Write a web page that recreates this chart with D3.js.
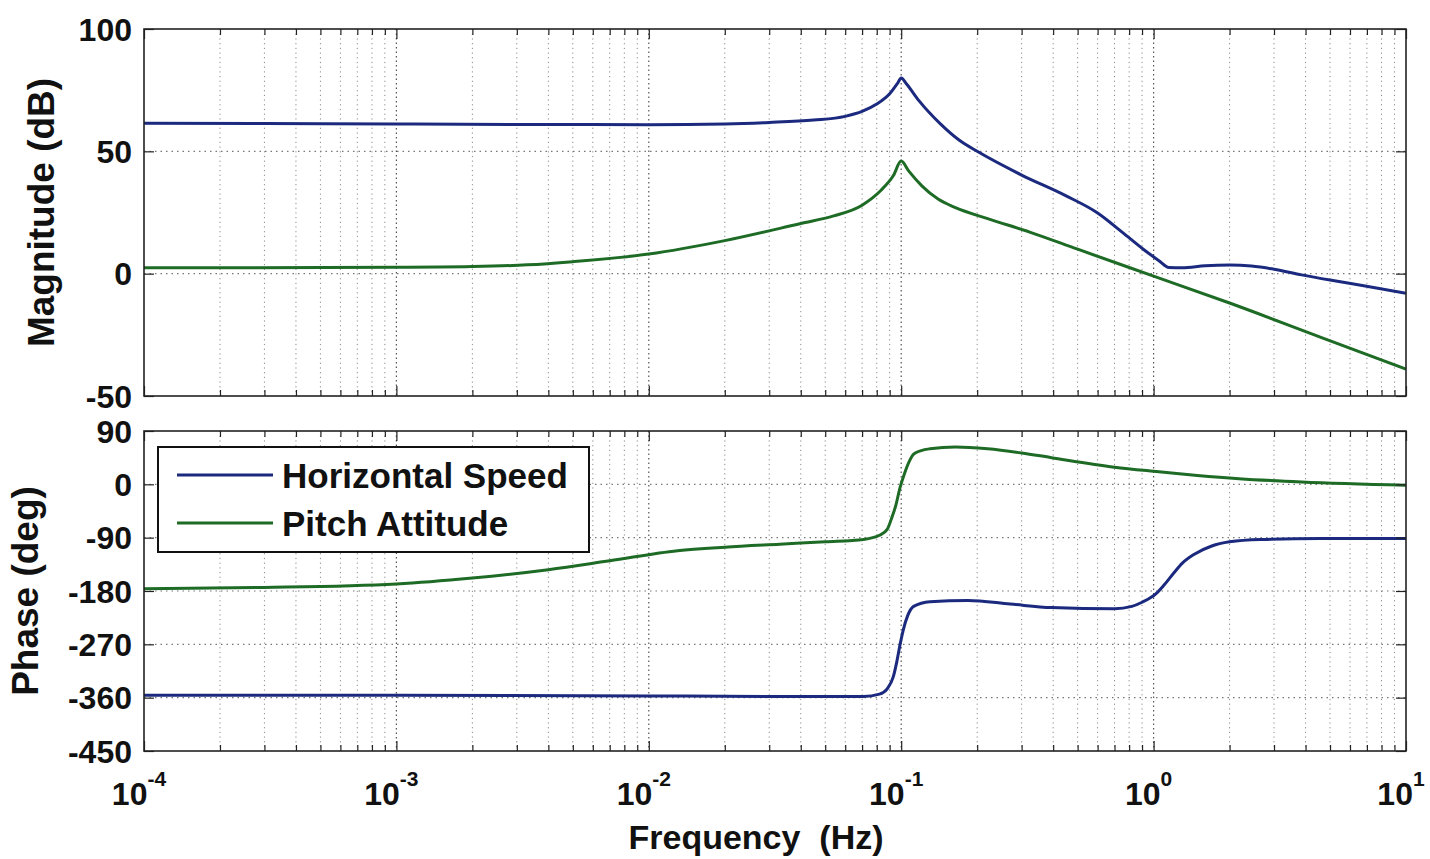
<!DOCTYPE html>
<html><head><meta charset="utf-8">
<script src="https://cdn.jsdelivr.net/npm/d3@7"></script>
<style>
body{margin:0;background:#fff}
svg{display:block}
text{font-family:"Liberation Sans",Arial,Helvetica,sans-serif;font-weight:bold;fill:#111}
</style>
</head><body>
<svg id="c" width="1430" height="859"></svg>
<script>
// ---------------- data ----------------
const seriesNames = ["Horizontal Speed", "Pitch Attitude"];
const seriesColors = ["#1b2a7e", "#1e6b26"];

// Magnitude (dB)
const hsMagFreq = [1e-4,3e-4,1e-3,3e-3,1e-2,0.02,0.03,0.045,0.06,0.07,0.08,0.09,0.097,0.1,0.105,0.118,0.143,0.17,0.2,0.3,0.45,0.6,0.75,0.91,1.05,1.15,1.3,1.6,2.0,2.44,3.0,3.86,5.0,6.8,10];
const hsMag     = [61.5,61.4,61.2,61.0,60.9,61.2,61.8,62.8,64.3,66.3,69.3,73.5,78.0,80.0,77.5,70.5,61.2,54.5,50.0,40.3,31.8,24.8,17.0,10.0,5.3,2.5,2.4,3.2,3.5,3.1,1.8,-0.5,-2.6,-4.9,-8.0];
const paMagFreq = [1e-4,1e-3,2e-3,3.3e-3,5e-3,1e-2,0.02,0.04,0.054,0.07,0.083,0.093,0.1,0.107,0.121,0.14,0.164,0.22,0.325,0.5,1.0,2.0,4.6,10];
const paMag     = [2.4,2.6,2.9,3.6,4.9,8.0,13.5,20.5,23.6,28.0,34.0,40.0,46.0,42.0,35.8,30.5,27.0,22.5,16.9,10.0,-1.0,-12.0,-26.0,-39.0];

// Phase (deg)
const hsPhFreq = [1e-4,1e-3,1e-2,0.03,0.071,0.082,0.088,0.093,0.096,0.099,0.102,0.106,0.112,0.13,0.184,0.27,0.394,0.7,0.82,0.9,1.02,1.1,1.2,1.3,1.45,1.7,2.0,2.65,4.6,10];
const hsPh     = [-356,-356,-357,-358,-358,-354,-345,-325,-300,-270,-245,-222,-206,-198,-196,-202,-208,-210,-206,-199,-185,-170,-150,-133,-118,-104,-97,-93,-91.5,-91.5];
const paPhFreq = [1e-4,3e-4,1e-3,2e-3,4e-3,7e-3,0.013,0.02,0.033,0.05,0.071,0.082,0.088,0.092,0.095,0.099,0.103,0.108,0.112,0.12,0.13,0.164,0.22,0.3,0.394,0.7,1.0,1.49,2.18,3.86,10];
const paPh     = [-176,-174,-168,-158,-144,-129,-112,-106,-101,-97,-93,-86,-76,-55,-37,-5,18,40,51,57,60,63,60,53,45,29,22,15,9.5,4,-1.5];

// ticks
const magTicks   = [100, 50, 0, -50];
const phaseTicks = [90, 0, -90, -180, -270, -360, -450];
const freqDecades = [-4, -3, -2, -1, 0, 1];

// ---------------- layout ----------------
const L = 144, R = 1406;
const P1 = {top: 29, bot: 396};
const P2 = {top: 431, bot: 751};

const svg = d3.select("#c");
const x = d3.scaleLog().domain([1e-4, 10]).range([L, R]);
const yMag = d3.scaleLinear().domain([-50, 100]).range([P1.bot, P1.top]);
const yPh  = d3.scaleLinear().domain([-450, 90]).range([P2.bot, P2.top]);

const majors = freqDecades.map(d => Math.pow(10, d));
const minors = [];
freqDecades.slice(0, -1).forEach(d => { for (let k = 2; k <= 9; k++) minors.push(k * Math.pow(10, d)); });

function panel(id, y, yticks, P, series) {
  const g = svg.append("g");
  const clipId = "clip" + id;
  svg.append("clipPath").attr("id", clipId).append("rect")
     .attr("x", L).attr("y", P.top).attr("width", R - L).attr("height", P.bot - P.top);

  // grid
  const grid = g.append("g");
  grid.selectAll(".vmin").data(minors).join("line")
    .attr("x1", d => x(d)).attr("x2", d => x(d)).attr("y1", P.top).attr("y2", P.bot)
    .attr("stroke", "#8a8a8a").attr("stroke-width", 1).attr("stroke-dasharray", "1.2,3.5");
  grid.selectAll(".vmaj").data(majors.slice(1, -1)).join("line")
    .attr("x1", d => x(d)).attr("x2", d => x(d)).attr("y1", P.top).attr("y2", P.bot)
    .attr("stroke", "#555").attr("stroke-width", 1.2).attr("stroke-dasharray", "1.5,3");
  grid.selectAll(".h").data(yticks.slice(1, -1)).join("line")
    .attr("x1", L).attr("x2", R).attr("y1", d => y(d)).attr("y2", d => y(d))
    .attr("stroke", "#777").attr("stroke-width", 1.1).attr("stroke-dasharray", "1.5,4");

  // curves
  const line = d3.line().x(d => x(d[0])).y(d => y(d[1])).curve(d3.curveMonotoneX);
  const lg = g.append("g").attr("clip-path", `url(#${clipId})`);
  series.forEach(s => {
    lg.append("path").datum(d3.zip(s.f, s.v))
      .attr("d", line).attr("fill", "none")
      .attr("stroke", seriesColors[s.c]).attr("stroke-width", 3)
      .attr("stroke-linejoin", "round");
  });

  // axes ticks (inward)
  const ax = (a, tr) => g.append("g").attr("transform", tr).call(a)
      .call(s => s.select(".domain").remove())
      .call(s => s.selectAll("line").attr("stroke", "#222").attr("stroke-width", 1.2));
  ax(d3.axisBottom(x).tickValues(majors).tickSize(-10).tickFormat(""), `translate(0,${P.bot})`);
  ax(d3.axisBottom(x).tickValues(minors).tickSize(-6).tickFormat(""), `translate(0,${P.bot})`);
  ax(d3.axisTop(x).tickValues(majors).tickSize(-10).tickFormat(""), `translate(0,${P.top})`);
  ax(d3.axisTop(x).tickValues(minors).tickSize(-6).tickFormat(""), `translate(0,${P.top})`);
  ax(d3.axisLeft(y).tickValues(yticks).tickSize(-10).tickFormat(""), `translate(${L},0)`);
  ax(d3.axisRight(y).tickValues(yticks).tickSize(-10).tickFormat(""), `translate(${R},0)`);

  // frame
  g.append("rect").attr("x", L).attr("y", P.top).attr("width", R - L).attr("height", P.bot - P.top)
    .attr("fill", "none").attr("stroke", "#222").attr("stroke-width", 1.6);

  // y tick labels
  g.selectAll(".yl").data(yticks).join("text")
    .attr("x", 132).attr("y", d => y(d) + 11.5)
    .attr("text-anchor", "end").attr("font-size", 32).text(d => d);
  return g;
}

panel("m", yMag, magTicks, P1, [
  {f: hsMagFreq, v: hsMag, c: 0},
  {f: paMagFreq, v: paMag, c: 1}
]);
panel("p", yPh, phaseTicks, P2, [
  {f: hsPhFreq, v: hsPh, c: 0},
  {f: paPhFreq, v: paPh, c: 1}
]);

// x tick labels
const xl = svg.selectAll(".xl").data(freqDecades).join("text")
  .attr("x", d => x(Math.pow(10, d)) - 5).attr("y", 805)
  .attr("text-anchor", "middle").attr("font-size", 32);
xl.append("tspan").text("10");
xl.append("tspan").attr("dy", -19).attr("font-size", 21).text(d => d);

// axis titles
svg.append("text").attr("transform", `translate(54,${(P1.top + P1.bot) / 2}) rotate(-90)`)
  .attr("text-anchor", "middle").attr("font-size", 37).text("Magnitude (dB)");
svg.append("text").attr("transform", `translate(38,${(P2.top + P2.bot) / 2}) rotate(-90)`)
  .attr("text-anchor", "middle").attr("font-size", 37).text("Phase (deg)");
svg.append("text").attr("x", 756).attr("y", 849).attr("text-anchor", "middle")
  .attr("font-size", 34).style("white-space", "pre").text("Frequency  (Hz)");

// legend
const lgd = svg.append("g");
lgd.append("rect").attr("x", 158).attr("y", 447).attr("width", 431).attr("height", 105)
  .attr("fill", "#fff").attr("stroke", "#111").attr("stroke-width", 2);
seriesNames.forEach((n, i) => {
  const yy = 475 + i * 48;
  lgd.append("line").attr("x1", 177).attr("x2", 273).attr("y1", yy).attr("y2", yy)
    .attr("stroke", seriesColors[i]).attr("stroke-width", 3);
  lgd.append("text").attr("x", 282).attr("y", yy + 12.5).attr("font-size", 35).text(n);
});
</script>
</body></html>
